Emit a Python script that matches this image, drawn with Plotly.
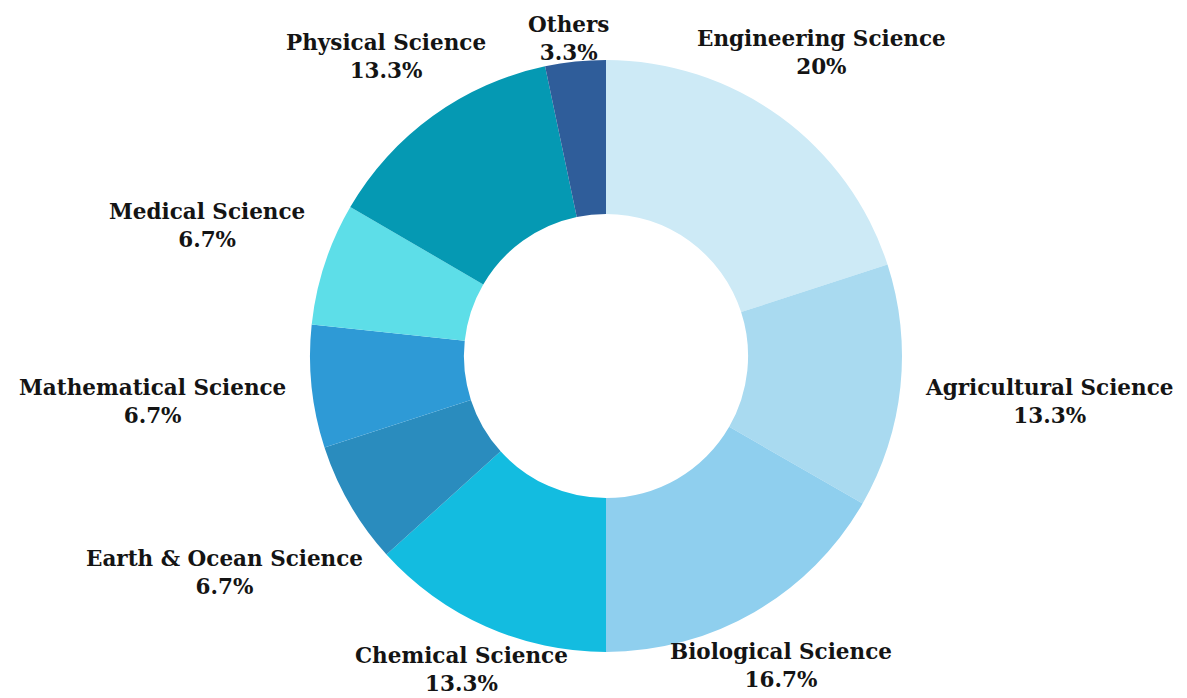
import math
import plotly.graph_objects as go

categories = ["Engineering Science", "Agricultural Science", "Biological Science",
              "Chemical Science", "Earth & Ocean Science", "Mathematical Science",
              "Medical Science", "Physical Science", "Others"]
shares = [20, 13.3, 16.7, 13.3, 6.7, 6.7, 6.7, 13.3, 3.3]
colors = ["#CDEAF6", "#A9DAF0", "#8FCFEE", "#13BCE0", "#2A8CBE",
          "#2E9AD6", "#5DDEE8", "#0599B3", "#2F5D9A"]

W, H = 1187, 698
PAGE_OFFSET = 8           # default body margin of the html page
CX, CY = 606, 356         # wanted pie centre on screen (px)
R = 296                   # pie radius (px)
LABEL_DX, LABEL_DY = -5, -1
FONT_SIZE = 21.5
CHAR_W = 13.3             # approx. glyph advance at FONT_SIZE
HALF_H = 23               # half height of a two-line label
LABEL_RX, LABEL_RY, GAP = 310, 287, 6

fx, fy = CX - PAGE_OFFSET, CY - PAGE_OFFSET
dom_x = [(fx - R) / W, (fx + R) / W]
dom_y = [(H - fy - R) / H, (H - fy + R) / H]

fig = go.Figure(go.Pie(
    labels=categories,
    values=shares,
    sort=False,
    direction="clockwise",
    rotation=0,
    hole=0.48,
    marker=dict(colors=colors, line=dict(width=0)),
    textinfo="none",
    hoverinfo="label+percent",
    showlegend=False,
    domain=dict(x=dom_x, y=dom_y),
))

# outside labels placed along each slice's mid-angle
total = sum(shares)
cum = 0.0
ax_r, ay_r = LABEL_RX + GAP, LABEL_RY + GAP
for name, v in zip(categories, shares):
    mid = (cum + v / 2) / total * 2 * math.pi
    cum += v
    s, c = math.sin(mid), math.cos(mid)
    pct = f"{v:g}%"
    hw = max(len(name), len(pct)) * CHAR_W / 2
    t = 50.0
    while True:
        nx = max(0.0, abs(s) * t - hw)
        ny = max(0.0, abs(c) * t - HALF_H)
        if (nx / ax_r) ** 2 + (ny / ay_r) ** 2 >= 1:
            break
        t += 0.5
    px = fx + LABEL_DX + s * t
    py = fy + LABEL_DY - c * t
    fig.add_annotation(
        x=px / W, y=1 - py / H, xref="paper", yref="paper",
        text=f"{name}<br>{pct}", showarrow=False,
        xanchor="center", yanchor="middle", align="center",
        font=dict(family="DejaVu Serif", size=FONT_SIZE, color="#141414", weight="bold"),
    )

fig.update_layout(
    width=W, height=H,
    margin=dict(l=0, r=0, t=0, b=0),
    paper_bgcolor="white",
    plot_bgcolor="white",
)

fig.write_html("out.html")
